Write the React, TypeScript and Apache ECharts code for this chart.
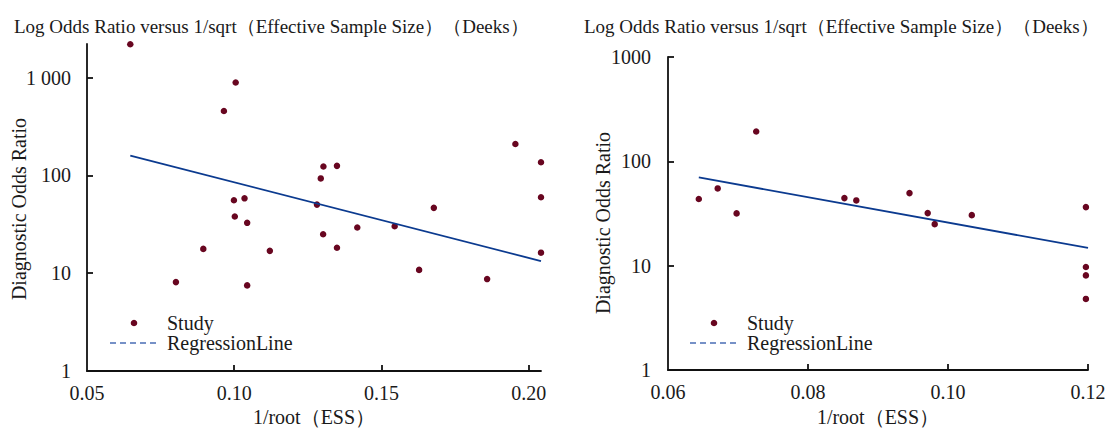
import React, { useEffect, useRef } from "react";
import * as echarts from "echarts";

const TITLE = "Log Odds Ratio versus 1/sqrt（Effective Sample Size）（Deeks）";
const X_NAME = "1/root（ESS）";
const Y_NAME = "Diagnostic Odds Ratio";

// Left panel studies: [1/root(ESS), diagnostic odds ratio]
const leftX = [0.0647, 0.1005, 0.0965, 0.0999, 0.1035, 0.1002, 0.1044, 0.0895, 0.1121, 0.0802, 0.1044, 0.1955, 0.2042, 0.2042, 0.1303, 0.1349, 0.1294, 0.1281, 0.1678, 0.1302, 0.1418, 0.1545, 0.1349, 0.1628, 0.1859, 0.2042];
const leftY = [2190, 889, 454, 55.6, 58.2, 37.9, 32.7, 17.7, 16.9, 8.1, 7.5, 209, 136, 59.7, 123, 125, 93, 50.2, 46.5, 25, 29.3, 30.2, 18.2, 10.8, 8.7, 16.2];
const leftLineX = [0.0647, 0.2042];
const leftLineY = [159, 13.3];

// Right panel studies
const rightX = [0.0726, 0.0644, 0.0671, 0.0698, 0.0852, 0.0869, 0.0945, 0.0971, 0.0981, 0.1034, 0.1197, 0.1197, 0.1197, 0.1197];
const rightY = [193, 43.5, 55, 31.7, 44.4, 42.2, 49.6, 31.9, 25, 30.5, 36.4, 9.7, 8.07, 4.8];
const rightLineX = [0.0644, 0.12];
const rightLineY = [70.1, 14.8];

const leftXTicks = [0.05, 0.1, 0.15, 0.2];
const rightXTicks = [0.06, 0.08, 0.1, 0.12];
const yTicks = [1, 10, 100, 1000];

const FONT = "'Liberation Serif', 'Noto Serif', serif";
const DOT = "#680620";
const LINE = "#0b3a8f";
const LEGEND_LINE = "#4a6db5";
const TXT = "#1a1a1a";
const FS = 20;

const zip = (a: number[], b: number[]) => a.map((v, i) => [v, b[i]]);

export default function App() {
  const ref = useRef<HTMLDivElement>(null);
  useEffect(() => {
    if (!ref.current) return;
    const chart = echarts.init(ref.current, undefined, { renderer: "svg" });
    const axisLine = { show: true, lineStyle: { color: "#111", width: 1.8 } };
    const tick = (vals: number[]) => ({
      show: true,
      inside: true,
      length: 6,
      lineStyle: { color: "#111", width: 1.8 },
      customValues: vals,
    });
    const label = (vals: number[], fmt: (v: number) => string, margin: number) => ({
      customValues: vals,
      formatter: fmt,
      fontFamily: FONT,
      fontSize: FS,
      color: TXT,
      margin,
      showMinLabel: true,
      showMaxLabel: true,
    });
    const legend = (x: number) => [
      { type: "circle", shape: { cx: x + 24, cy: 323, r: 3.3 }, style: { fill: DOT } },
      { type: "line", shape: { x1: x, y1: 343, x2: x + 47, y2: 343 }, style: { stroke: LEGEND_LINE, lineWidth: 1.5, lineDash: [6, 4] } },
      { type: "text", x: x + 57, y: 323, style: { text: "Study", font: `${FS}px ${FONT}`, fill: TXT, verticalAlign: "middle" } },
      { type: "text", x: x + 57, y: 343, style: { text: "RegressionLine", font: `${FS}px ${FONT}`, fill: TXT, verticalAlign: "middle" } },
    ];
    const scatterStyle = { color: DOT, opacity: 1 };
    const xName = (x: number) => ({
      type: "text", x, y: 417,
      style: { text: X_NAME, font: `${FS}px ${FONT}`, lineHeight: 20, fill: TXT, align: "center", verticalAlign: "middle" },
    });
    chart.setOption({
      animation: false,
      title: [
        { text: TITLE, left: 9, top: 12, textStyle: { fontFamily: FONT, fontSize: 19, fontWeight: "normal", color: TXT } },
        { text: TITLE, left: 579, top: 12, textStyle: { fontFamily: FONT, fontSize: 19, fontWeight: "normal", color: TXT } },
      ],
      grid: [
        { left: 87, top: 44, width: 454, height: 327 },
        { left: 668, top: 57, width: 420, height: 313 },
      ],
      xAxis: [
        {
          type: "value", gridIndex: 0, min: 0.05, max: 0.2042, interval: 0.05,
          axisLine, axisTick: tick([0.1, 0.15, 0.2]), splitLine: { show: false },
          axisLabel: label(leftXTicks, (v: number) => v.toFixed(2), 12),
        },
        {
          type: "value", gridIndex: 1, min: 0.06, max: 0.12, interval: 0.02,
          axisLine, axisTick: tick([0.08, 0.1, 0.12]), splitLine: { show: false },
          axisLabel: label(rightXTicks, (v: number) => v.toFixed(2), 12),
        },
      ],
      yAxis: [
        {
          type: "log", gridIndex: 0, min: 1, max: 2200, logBase: 10,
          axisLine, axisTick: tick([10, 100, 1000]), splitLine: { show: false },
          axisLabel: label(yTicks, (v: number) => (Math.round(v) === 1000 ? "1 000" : String(Math.round(v))), 16),
        },
        {
          type: "log", gridIndex: 1, min: 1, max: 1000, logBase: 10,
          axisLine, axisTick: tick([10, 100, 1000]), splitLine: { show: false },
          axisLabel: label(yTicks, (v: number) => String(Math.round(v)), 17),
        },
      ],
      series: [
        { name: "Study", type: "scatter", xAxisIndex: 0, yAxisIndex: 0, data: zip(leftX, leftY), symbolSize: 6.5, itemStyle: scatterStyle, clip: false },
        { name: "RegressionLine", type: "line", xAxisIndex: 0, yAxisIndex: 0, data: zip(leftLineX, leftLineY), symbol: "none", lineStyle: { color: LINE, width: 1.8 } },
        { name: "Study", type: "scatter", xAxisIndex: 1, yAxisIndex: 1, data: zip(rightX, rightY), symbolSize: 6.5, itemStyle: scatterStyle, clip: false },
        { name: "RegressionLine", type: "line", xAxisIndex: 1, yAxisIndex: 1, data: zip(rightLineX, rightLineY), symbol: "none", lineStyle: { color: LINE, width: 1.8 } },
      ],
      graphic: [
        ...legend(110),
        ...legend(690),
        xName(314),
        xName(878),
        { type: "text", x: 19, y: 209, rotation: Math.PI / 2, style: { text: Y_NAME, font: `${FS}px ${FONT}`, fill: TXT, align: "center", verticalAlign: "middle" } },
        { type: "text", x: 603, y: 223, rotation: Math.PI / 2, style: { text: Y_NAME, font: `${FS}px ${FONT}`, fill: TXT, align: "center", verticalAlign: "middle" } },
      ],
    });
    return () => chart.dispose();
  }, []);
  return <div ref={ref} style={{ position: "fixed", left: 0, top: 0, width: 1113, height: 430, background: "#fff" }} />;
}
